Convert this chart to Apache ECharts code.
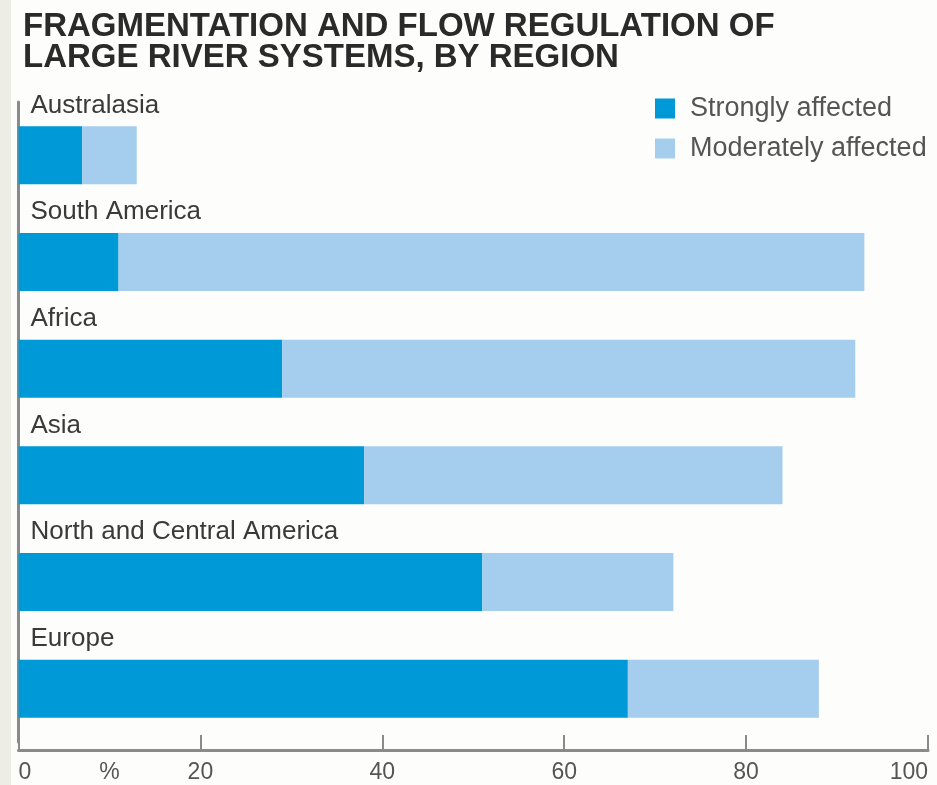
<!DOCTYPE html>
<html><head><meta charset="utf-8">
<script src="https://cdn.jsdelivr.net/npm/echarts@6/dist/echarts.min.js"></script>
<style>html,body{margin:0;padding:0;background:#fdfdfb}#c{width:937px;height:785px}</style>
</head><body><div id="c"></div>
<script>
const categories = ['Australasia','South America','Africa','Asia','North and Central America','Europe'];
const strongly = [7, 11, 29, 38, 51, 67];
const moderately = [6, 82, 63, 46, 21, 21];
const seriesNames = ['Strongly affected','Moderately affected'];
const tickValues = [0, 20, 40, 60, 80, 100];

const chart = echarts.init(document.getElementById('c'));
const font = 'Liberation Sans, Arial, sans-serif';
chart.setOption({
  backgroundColor: '#fdfdfb',
  animation: false,
  title: {
    text: 'FRAGMENTATION AND FLOW REGULATION OF\nLARGE RIVER SYSTEMS, BY REGION',
    left: 18, top: 6,
    textStyle: {fontFamily: font, fontWeight: 'bold', fontSize: 33, lineHeight: 31, color: '#2a2a2a'}
  },
  legend: {
    orient: 'vertical', left: 650, top: 90, itemWidth: 20, itemHeight: 20, itemGap: 13,
    icon: 'rect',
    textStyle: {fontFamily: font, fontSize: 27, color: '#555', padding: [0,0,0,10]},
    data: seriesNames
  },
  graphic: [{type: 'rect', left: 0, top: 0, shape: {width: 11, height: 785}, style: {fill: '#eeede4'}, silent: true}],
  grid: {left: 18.5, right: 9, top: 102, bottom: 43},
  xAxis: [{
    type: 'value', min: 0, max: 100, interval: 20, offset: 8,
    axisLine: {show: true, lineStyle: {color: '#8a8a8a', width: 3}},
    axisTick: {show: true, inside: true, length: 15, lineStyle: {color: '#8a8a8a', width: 2}},
    splitLine: {show: false},
    axisLabel: {fontFamily: font, fontSize: 23, color: '#555', margin: 11, alignMinLabel: 'left', alignMaxLabel: 'right',
      formatter: v => tickValues.includes(v) ? String(v) : ''}
  }, {
    type: 'value', min: 0, max: 100, interval: 10, position: 'bottom', offset: 8,
    axisLine: {show: false}, axisTick: {show: false}, splitLine: {show: false},
    axisLabel: {fontFamily: font, fontSize: 23, color: '#555', margin: 11, formatter: v => v === 10 ? '%' : ''}
  }],
  yAxis: {
    type: 'category', data: categories, inverse: true,
    axisLine: {show: true, lineStyle: {color: '#8a8a8a', width: 3}},
    axisTick: {show: false}, axisLabel: {show: false}
  },
  series: [{
    name: seriesNames[0], type: 'bar', stack: 'a', data: strongly, barWidth: 58,
    itemStyle: {color: '#0099d8'},
    label: {show: true, position: [12, -34], formatter: '{b}', fontFamily: font, fontSize: 26, color: '#3a3a3a'}
  }, {
    name: seriesNames[1], type: 'bar', stack: 'a', data: moderately, barWidth: 58,
    itemStyle: {color: '#a5cdee'}
  }]
});
</script></body></html>
